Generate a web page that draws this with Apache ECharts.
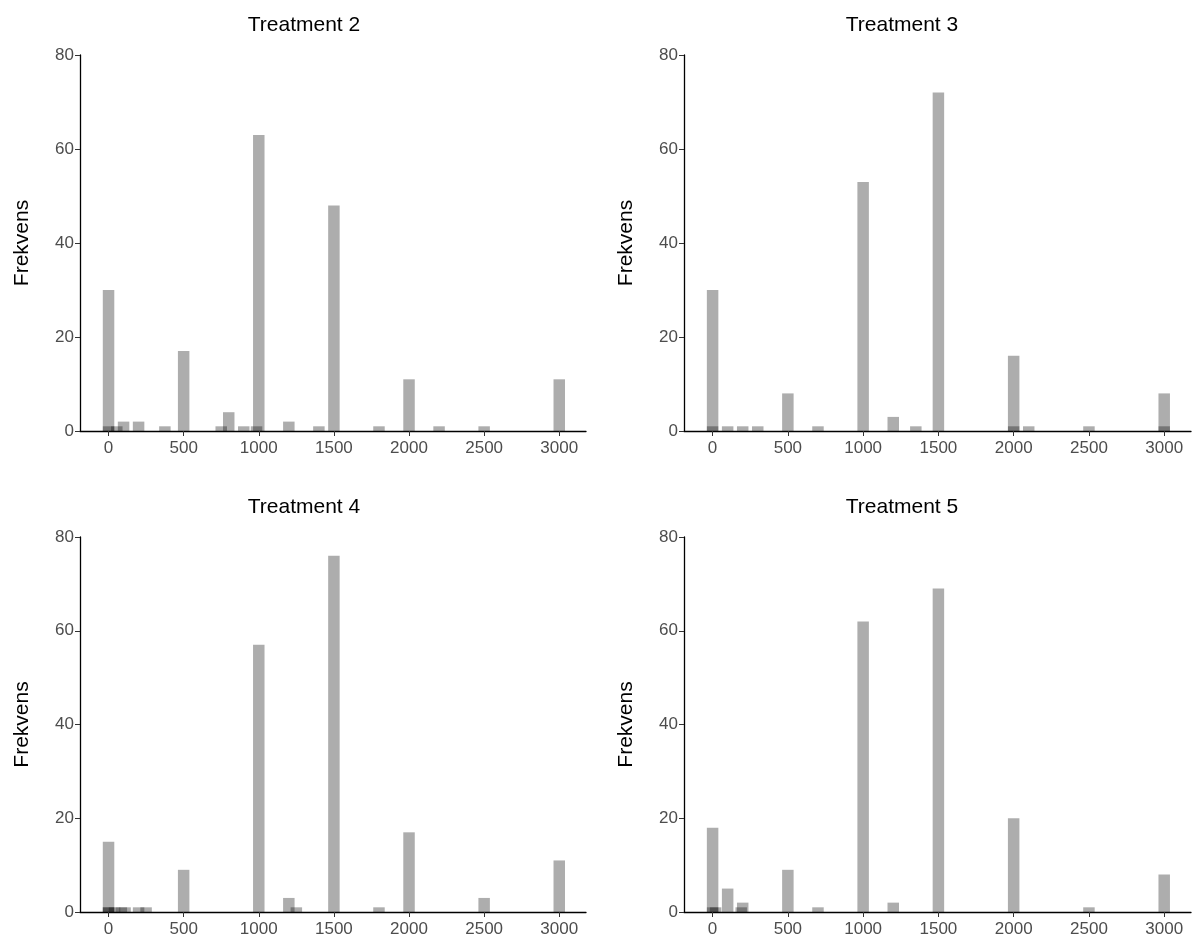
<!DOCTYPE html>
<html>
<head>
<meta charset="utf-8">
<script src="https://cdn.jsdelivr.net/npm/echarts@6/dist/echarts.min.js"></script>
<style>
  html, body { margin: 0; padding: 0; background: #fff; }
  #main { width: 1196px; height: 944px; }
</style>
</head>
<body>
<div id="main"></div>
<script>
// tick labels
const xTicks = [0, 500, 1000, 1500, 2000, 2500, 3000];
const yTicks = [0, 20, 40, 60, 80];
const titles = ['Treatment 2', 'Treatment 3', 'Treatment 4', 'Treatment 5'];

// Treatment 2 - bin centre / count
const t2Bins = [0, 100, 200, 375, 500, 750, 800, 900, 1000, 1200, 1400, 1500, 1800, 2000, 2200, 2500, 3000];
const t2Counts = [30, 2, 2, 1, 17, 1, 4, 1, 63, 2, 1, 48, 1, 11, 1, 1, 11];
const t2ExtraBins = [0, 55, 985];
const t2ExtraCounts = [1, 1, 1];

// Treatment 3
const t3Bins = [0, 100, 200, 300, 500, 700, 1000, 1200, 1350, 1500, 2000, 2100, 2500, 3000];
const t3Counts = [30, 1, 1, 1, 8, 1, 53, 3, 1, 72, 16, 1, 1, 8];
const t3ExtraBins = [0, 2000, 3000];
const t3ExtraCounts = [1, 1, 1];

// Treatment 4
const t4Bins = [0, 85, 200, 500, 1000, 1200, 1500, 1800, 2000, 2500, 3000];
const t4Counts = [15, 1, 1, 9, 57, 3, 76, 1, 17, 3, 11];
const t4ExtraBins = [0, 110, 250, 1250];
const t4ExtraCounts = [1, 1, 1, 1];
const t4Extra2Bins = [0, 40];
const t4Extra2Counts = [1, 1];

// Treatment 5
const t5Bins = [0, 100, 200, 500, 700, 1000, 1200, 1500, 2000, 2500, 3000];
const t5Counts = [18, 5, 2, 9, 1, 62, 2, 69, 20, 1, 8];
const t5ExtraBins = [0, 190];
const t5ExtraCounts = [1, 1];
const t5Extra2Bins = [20];
const t5Extra2Counts = [1];

const panels = [
  [[t2Bins, t2Counts], [t2ExtraBins, t2ExtraCounts]],
  [[t3Bins, t3Counts], [t3ExtraBins, t3ExtraCounts]],
  [[t4Bins, t4Counts], [t4ExtraBins, t4ExtraCounts], [t4Extra2Bins, t4Extra2Counts]],
  [[t5Bins, t5Counts], [t5ExtraBins, t5ExtraCounts], [t5Extra2Bins, t5Extra2Counts]]
];

const font = 'Liberation Sans, Arial, sans-serif';
const barFill = 'rgba(0,0,0,0.32)';
const gridPos = [
  {left: 80, top: 55, width: 506, height: 376},
  {left: 684, top: 55, width: 507, height: 376},
  {left: 80, top: 537, width: 506, height: 375},
  {left: 684, top: 537, width: 507, height: 375}
];
const titleX = [299, 897, 299, 897];
const titleY = [10, 10, 492, 492];

function pairs(xs, ys) {
  return xs.map((x, i) => [x, ys[i]]);
}

const chart = echarts.init(document.getElementById('main'), null, {renderer: 'canvas'});

const option = {
  animation: false,
  backgroundColor: '#fff',
  title: titles.map((t, i) => ({
    text: t,
    left: titleX[i],
    top: titleY[i],
    textAlign: 'center',
    textStyle: {fontFamily: font, fontSize: 21, fontWeight: 'normal', color: '#000'}
  })),
  grid: gridPos.map(g => Object.assign({containLabel: false}, g)),
  xAxis: gridPos.map((g, i) => ({
    type: 'value',
    gridIndex: i,
    min: -190,
    max: 3178,
    splitLine: {show: false},
    axisLine: {onZero: false, lineStyle: {color: '#000', width: 1.3}},
    axisTick: {length: 5, lineStyle: {color: '#333'}, customValues: xTicks},
    axisLabel: {
      customValues: xTicks,
      formatter: v => String(v),
      color: '#4d4d4d',
      fontFamily: font,
      fontSize: 17,
      margin: 9
    }
  })),
  yAxis: gridPos.map((g, i) => ({
    type: 'value',
    gridIndex: i,
    min: yTicks[0],
    max: yTicks[yTicks.length - 1],
    interval: 20,
    name: 'Frekvens',
    nameLocation: 'middle',
    nameGap: 47,
    nameRotate: 90,
    nameTextStyle: {fontFamily: font, fontSize: 21, color: '#000'},
    splitLine: {show: false},
    axisLine: {show: true, onZero: false, lineStyle: {color: '#000', width: 1.3}},
    axisTick: {show: true, length: 5, lineStyle: {color: '#333'}},
    axisLabel: {color: '#4d4d4d', fontFamily: font, fontSize: 17, margin: 6}
  })),
  series: []
};

panels.forEach((layers, p) => {
  layers.forEach(([xs, ys]) => {
    option.series.push({
      type: 'bar',
      xAxisIndex: p,
      yAxisIndex: p,
      data: pairs(xs, ys),
      barWidth: 11.5,
      barGap: '-100%',
      itemStyle: {color: barFill},
      emphasis: {disabled: true},
      silent: true
    });
  });
});

chart.setOption(option);
</script>
</body>
</html>
